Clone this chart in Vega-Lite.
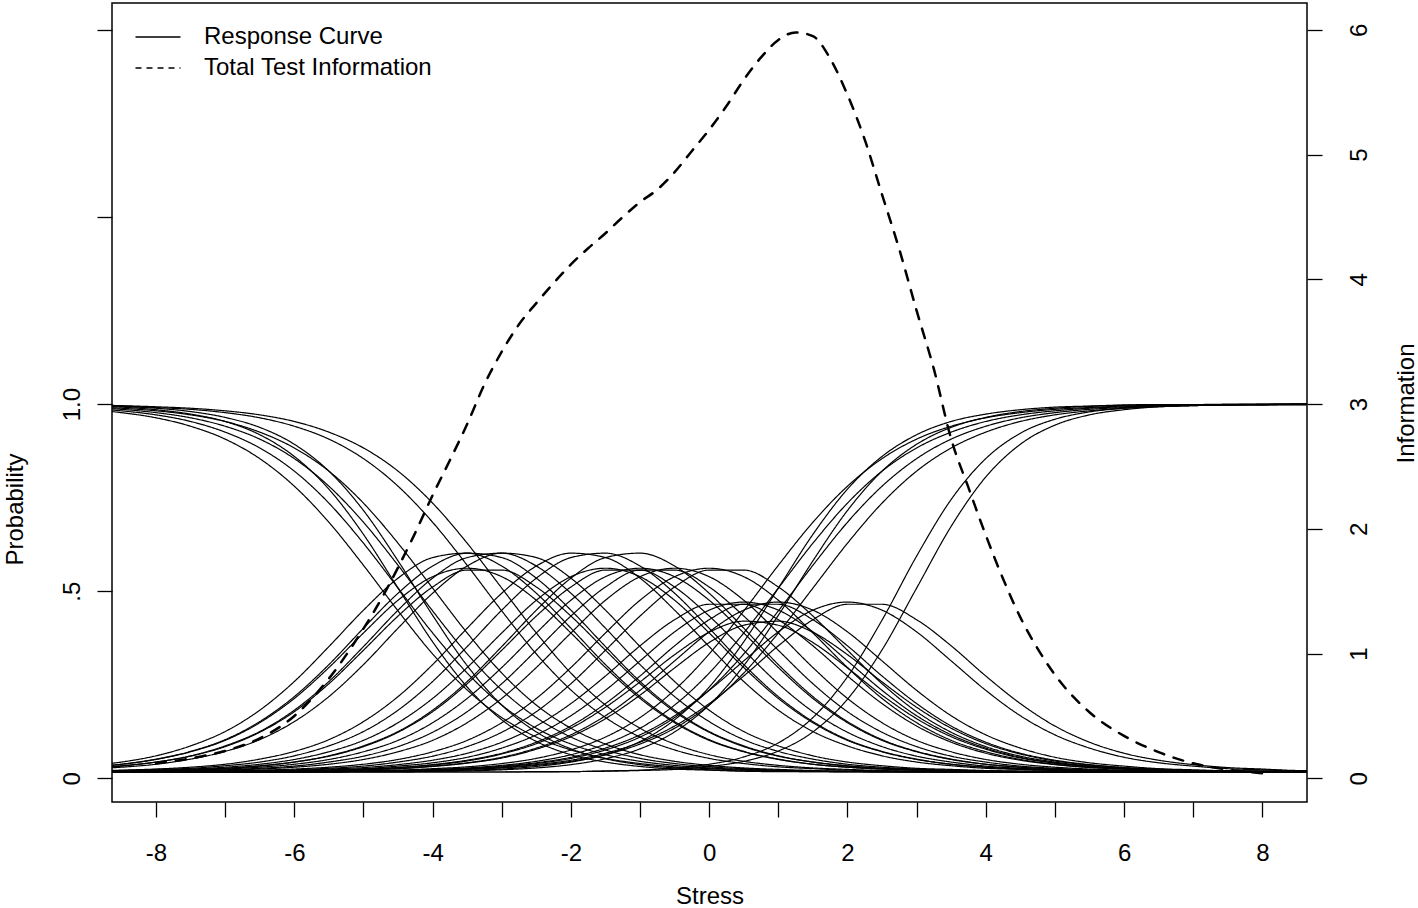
{
  "$schema": "https://vega.github.io/schema/vega-lite/v6.json",
  "width": 1195,
  "height": 799,
  "autosize": {"type": "none"},
  "padding": {"left": 112, "top": 3, "right": 111, "bottom": 106},
  "background": "white",
  "config": {
    "font": "Liberation Sans",
    "view": {"stroke": "black", "strokeWidth": 1.5},
    "axis": {"domain": false, "grid": false, "labelFont": "Liberation Sans", "labelFontSize": 24, "labelColor": "black", "titleFont": "Liberation Sans", "titleFontSize": 24, "titleFontWeight": "normal", "titleColor": "black", "tickColor": "black", "tickWidth": 1.3, "tickSize": 15}
  },
  "datasets": {
    "curves": [
      {"curve": "d1", "t": [-9,-8.5,-8,-7.5,-7,-6.5,-6,-5.5,-5,-4.5,-4,-3.5,-3,-2.5,-2,-1.5,-1,-0.5,0,0.5,1,1.5,2,2.5,3,3.5,4,4.5,5,5.5,6,6.5,7,7.5,8,8.5,9], "p": [0.986,0.977,0.963,0.94,0.905,0.852,0.777,0.679,0.562,0.438,0.321,0.223,0.148,0.095,0.06,0.037,0.023,0.014,0.009,0.005,0.003,0.002,0.001,0.001,0,0,0,0,0,0,0,0,0,0,0,0,0]},
      {"curve": "d2", "t": [-9,-8.5,-8,-7.5,-7,-6.5,-6,-5.5,-5,-4.5,-4,-3.5,-3,-2.5,-2,-1.5,-1,-0.5,0,0.5,1,1.5,2,2.5,3,3.5,4,4.5,5,5.5,6,6.5,7,7.5,8,8.5,9], "p": [0.989,0.982,0.971,0.953,0.924,0.881,0.818,0.731,0.622,0.5,0.378,0.269,0.182,0.119,0.076,0.047,0.029,0.018,0.011,0.007,0.004,0.002,0.002,0.001,0.001,0,0,0,0,0,0,0,0,0,0,0,0]},
      {"curve": "d3", "t": [-9,-8.5,-8,-7.5,-7,-6.5,-6,-5.5,-5,-4.5,-4,-3.5,-3,-2.5,-2,-1.5,-1,-0.5,0,0.5,1,1.5,2,2.5,3,3.5,4,4.5,5,5.5,6,6.5,7,7.5,8,8.5,9], "p": [0.995,0.992,0.985,0.973,0.953,0.917,0.858,0.769,0.646,0.5,0.354,0.231,0.142,0.083,0.047,0.027,0.015,0.008,0.005,0.002,0.001,0.001,0,0,0,0,0,0,0,0,0,0,0,0,0,0,0]},
      {"curve": "d4", "t": [-9,-8.5,-8,-7.5,-7,-6.5,-6,-5.5,-5,-4.5,-4,-3.5,-3,-2.5,-2,-1.5,-1,-0.5,0,0.5,1,1.5,2,2.5,3,3.5,4,4.5,5,5.5,6,6.5,7,7.5,8,8.5,9], "p": [0.991,0.986,0.977,0.963,0.94,0.905,0.852,0.777,0.679,0.562,0.438,0.321,0.223,0.148,0.095,0.06,0.037,0.023,0.014,0.009,0.005,0.003,0.002,0.001,0.001,0,0,0,0,0,0,0,0,0,0,0,0]},
      {"curve": "d5", "t": [-9,-8.5,-8,-7.5,-7,-6.5,-6,-5.5,-5,-4.5,-4,-3.5,-3,-2.5,-2,-1.5,-1,-0.5,0,0.5,1,1.5,2,2.5,3,3.5,4,4.5,5,5.5,6,6.5,7,7.5,8,8.5,9], "p": [0.997,0.994,0.989,0.98,0.964,0.937,0.891,0.818,0.711,0.574,0.426,0.289,0.182,0.109,0.063,0.036,0.02,0.011,0.006,0.003,0.002,0.001,0.001,0,0,0,0,0,0,0,0,0,0,0,0,0,0]},
      {"curve": "d6", "t": [-9,-8.5,-8,-7.5,-7,-6.5,-6,-5.5,-5,-4.5,-4,-3.5,-3,-2.5,-2,-1.5,-1,-0.5,0,0.5,1,1.5,2,2.5,3,3.5,4,4.5,5,5.5,6,6.5,7,7.5,8,8.5,9], "p": [0.993,0.989,0.982,0.971,0.953,0.924,0.881,0.818,0.731,0.622,0.5,0.378,0.269,0.182,0.119,0.076,0.047,0.029,0.018,0.011,0.007,0.004,0.002,0.002,0.001,0.001,0,0,0,0,0,0,0,0,0,0,0]},
      {"curve": "d7", "t": [-9,-8.5,-8,-7.5,-7,-6.5,-6,-5.5,-5,-4.5,-4,-3.5,-3,-2.5,-2,-1.5,-1,-0.5,0,0.5,1,1.5,2,2.5,3,3.5,4,4.5,5,5.5,6,6.5,7,7.5,8,8.5,9], "p": [0.997,0.995,0.991,0.986,0.977,0.963,0.94,0.905,0.852,0.777,0.679,0.562,0.438,0.321,0.223,0.148,0.095,0.06,0.037,0.023,0.014,0.009,0.005,0.003,0.002,0.001,0.001,0,0,0,0,0,0,0,0,0,0]},
      {"curve": "d8", "t": [-9,-8.5,-8,-7.5,-7,-6.5,-6,-5.5,-5,-4.5,-4,-3.5,-3,-2.5,-2,-1.5,-1,-0.5,0,0.5,1,1.5,2,2.5,3,3.5,4,4.5,5,5.5,6,6.5,7,7.5,8,8.5,9], "p": [0.998,0.996,0.993,0.989,0.982,0.971,0.953,0.924,0.881,0.818,0.731,0.622,0.5,0.378,0.269,0.182,0.119,0.076,0.047,0.029,0.018,0.011,0.007,0.004,0.002,0.002,0.001,0.001,0,0,0,0,0,0,0,0,0]},
      {"curve": "u1", "t": [-9,-8.5,-8,-7.5,-7,-6.5,-6,-5.5,-5,-4.5,-4,-3.5,-3,-2.5,-2,-1.5,-1,-0.5,0,0.5,1,1.5,2,2.5,3,3.5,4,4.5,5,5.5,6,6.5,7,7.5,8,8.5,9], "p": [0,0,0,0,0,0.001,0.001,0.002,0.003,0.005,0.009,0.014,0.023,0.037,0.06,0.095,0.148,0.223,0.321,0.438,0.562,0.679,0.777,0.852,0.905,0.94,0.963,0.977,0.986,0.991,0.995,0.997,0.998,0.999,0.999,1,1]},
      {"curve": "u2", "t": [-9,-8.5,-8,-7.5,-7,-6.5,-6,-5.5,-5,-4.5,-4,-3.5,-3,-2.5,-2,-1.5,-1,-0.5,0,0.5,1,1.5,2,2.5,3,3.5,4,4.5,5,5.5,6,6.5,7,7.5,8,8.5,9], "p": [0,0,0,0,0,0.001,0.001,0.002,0.002,0.004,0.007,0.011,0.018,0.029,0.047,0.076,0.119,0.182,0.269,0.378,0.5,0.622,0.731,0.818,0.881,0.924,0.953,0.971,0.982,0.989,0.993,0.996,0.998,0.998,0.999,0.999,1]},
      {"curve": "u3", "t": [-9,-8.5,-8,-7.5,-7,-6.5,-6,-5.5,-5,-4.5,-4,-3.5,-3,-2.5,-2,-1.5,-1,-0.5,0,0.5,1,1.5,2,2.5,3,3.5,4,4.5,5,5.5,6,6.5,7,7.5,8,8.5,9], "p": [0,0,0,0,0,0,0,0,0.001,0.001,0.002,0.005,0.008,0.015,0.027,0.047,0.083,0.142,0.231,0.354,0.5,0.646,0.769,0.858,0.917,0.953,0.973,0.985,0.992,0.995,0.998,0.999,0.999,1,1,1,1]},
      {"curve": "u4", "t": [-9,-8.5,-8,-7.5,-7,-6.5,-6,-5.5,-5,-4.5,-4,-3.5,-3,-2.5,-2,-1.5,-1,-0.5,0,0.5,1,1.5,2,2.5,3,3.5,4,4.5,5,5.5,6,6.5,7,7.5,8,8.5,9], "p": [0,0,0,0,0,0,0.001,0.001,0.002,0.003,0.005,0.009,0.014,0.023,0.037,0.06,0.095,0.148,0.223,0.321,0.438,0.562,0.679,0.777,0.852,0.905,0.94,0.963,0.977,0.986,0.991,0.995,0.997,0.998,0.999,0.999,1]},
      {"curve": "u5", "t": [-9,-8.5,-8,-7.5,-7,-6.5,-6,-5.5,-5,-4.5,-4,-3.5,-3,-2.5,-2,-1.5,-1,-0.5,0,0.5,1,1.5,2,2.5,3,3.5,4,4.5,5,5.5,6,6.5,7,7.5,8,8.5,9], "p": [0,0,0,0,0,0,0,0,0.001,0.001,0.002,0.003,0.006,0.011,0.02,0.036,0.063,0.109,0.182,0.289,0.426,0.574,0.711,0.818,0.891,0.937,0.964,0.98,0.989,0.994,0.997,0.998,0.999,0.999,1,1,1]},
      {"curve": "u6", "t": [-9,-8.5,-8,-7.5,-7,-6.5,-6,-5.5,-5,-4.5,-4,-3.5,-3,-2.5,-2,-1.5,-1,-0.5,0,0.5,1,1.5,2,2.5,3,3.5,4,4.5,5,5.5,6,6.5,7,7.5,8,8.5,9], "p": [0,0,0,0,0,0,0.001,0.001,0.002,0.002,0.004,0.007,0.011,0.018,0.029,0.047,0.076,0.119,0.182,0.269,0.378,0.5,0.622,0.731,0.818,0.881,0.924,0.953,0.971,0.982,0.989,0.993,0.996,0.998,0.998,0.999,0.999]},
      {"curve": "u7", "t": [-9,-8.5,-8,-7.5,-7,-6.5,-6,-5.5,-5,-4.5,-4,-3.5,-3,-2.5,-2,-1.5,-1,-0.5,0,0.5,1,1.5,2,2.5,3,3.5,4,4.5,5,5.5,6,6.5,7,7.5,8,8.5,9], "p": [0,0,0,0,0,0,0,0,0,0,0,0,0,0.001,0.001,0.003,0.005,0.011,0.021,0.041,0.079,0.148,0.259,0.413,0.587,0.741,0.852,0.921,0.959,0.979,0.989,0.995,0.997,0.999,0.999,1,1]},
      {"curve": "u8", "t": [-9,-8.5,-8,-7.5,-7,-6.5,-6,-5.5,-5,-4.5,-4,-3.5,-3,-2.5,-2,-1.5,-1,-0.5,0,0.5,1,1.5,2,2.5,3,3.5,4,4.5,5,5.5,6,6.5,7,7.5,8,8.5,9], "p": [0,0,0,0,0,0,0,0,0,0,0,0,0,0,0.001,0.002,0.004,0.007,0.015,0.029,0.057,0.109,0.198,0.332,0.5,0.668,0.802,0.891,0.943,0.971,0.985,0.993,0.996,0.998,0.999,1,1]},
      {"curve": "A1", "t": [-9,-8.5,-8,-7.5,-7,-6.5,-6,-5.5,-5,-4.5,-4,-3.5,-3,-2.5,-2,-1.5,-1,-0.5,0,0.5,1,1.5,2,2.5,3,3.5,4,4.5,5,5.5,6,6.5,7,7.5,8,8.5,9], "p": [0.013,0.021,0.035,0.056,0.088,0.137,0.205,0.292,0.391,0.486,0.56,0.595,0.583,0.527,0.44,0.341,0.246,0.168,0.11,0.071,0.044,0.027,0.017,0.01,0.007,0.004,0.002,0.002,0.001,0.001,0,0,0,0,0,0,0]},
      {"curve": "A2", "t": [-9,-8.5,-8,-7.5,-7,-6.5,-6,-5.5,-5,-4.5,-4,-3.5,-3,-2.5,-2,-1.5,-1,-0.5,0,0.5,1,1.5,2,2.5,3,3.5,4,4.5,5,5.5,6,6.5,7,7.5,8,8.5,9], "p": [0.017,0.027,0.044,0.071,0.11,0.168,0.246,0.341,0.44,0.527,0.583,0.595,0.56,0.486,0.391,0.292,0.205,0.137,0.088,0.056,0.035,0.021,0.013,0.008,0.005,0.003,0.002,0.001,0.001,0,0,0,0,0,0,0,0]},
      {"curve": "A3", "t": [-9,-8.5,-8,-7.5,-7,-6.5,-6,-5.5,-5,-4.5,-4,-3.5,-3,-2.5,-2,-1.5,-1,-0.5,0,0.5,1,1.5,2,2.5,3,3.5,4,4.5,5,5.5,6,6.5,7,7.5,8,8.5,9], "p": [0.01,0.017,0.027,0.044,0.071,0.11,0.168,0.246,0.341,0.44,0.527,0.583,0.595,0.56,0.486,0.391,0.292,0.205,0.137,0.088,0.056,0.035,0.021,0.013,0.008,0.005,0.003,0.002,0.001,0.001,0,0,0,0,0,0,0]},
      {"curve": "A4", "t": [-9,-8.5,-8,-7.5,-7,-6.5,-6,-5.5,-5,-4.5,-4,-3.5,-3,-2.5,-2,-1.5,-1,-0.5,0,0.5,1,1.5,2,2.5,3,3.5,4,4.5,5,5.5,6,6.5,7,7.5,8,8.5,9], "p": [0.01,0.016,0.027,0.043,0.069,0.108,0.164,0.24,0.331,0.424,0.503,0.549,0.549,0.503,0.424,0.331,0.24,0.164,0.108,0.069,0.043,0.027,0.016,0.01,0.006,0.004,0.002,0.002,0.001,0.001,0,0,0,0,0,0,0]},
      {"curve": "A5", "t": [-9,-8.5,-8,-7.5,-7,-6.5,-6,-5.5,-5,-4.5,-4,-3.5,-3,-2.5,-2,-1.5,-1,-0.5,0,0.5,1,1.5,2,2.5,3,3.5,4,4.5,5,5.5,6,6.5,7,7.5,8,8.5,9], "p": [0.008,0.013,0.021,0.035,0.056,0.088,0.137,0.205,0.292,0.391,0.486,0.56,0.595,0.583,0.527,0.44,0.341,0.246,0.168,0.11,0.071,0.044,0.027,0.017,0.01,0.007,0.004,0.002,0.002,0.001,0.001,0,0,0,0,0,0]},
      {"curve": "A6", "t": [-9,-8.5,-8,-7.5,-7,-6.5,-6,-5.5,-5,-4.5,-4,-3.5,-3,-2.5,-2,-1.5,-1,-0.5,0,0.5,1,1.5,2,2.5,3,3.5,4,4.5,5,5.5,6,6.5,7,7.5,8,8.5,9], "p": [0.013,0.021,0.034,0.055,0.086,0.134,0.2,0.284,0.378,0.467,0.531,0.554,0.531,0.467,0.378,0.284,0.2,0.134,0.086,0.055,0.034,0.021,0.013,0.008,0.005,0.003,0.002,0.001,0.001,0,0,0,0,0,0,0,0]},
      {"curve": "B1", "t": [-9,-8.5,-8,-7.5,-7,-6.5,-6,-5.5,-5,-4.5,-4,-3.5,-3,-2.5,-2,-1.5,-1,-0.5,0,0.5,1,1.5,2,2.5,3,3.5,4,4.5,5,5.5,6,6.5,7,7.5,8,8.5,9], "p": [0.003,0.005,0.008,0.013,0.021,0.035,0.056,0.088,0.137,0.205,0.292,0.391,0.486,0.56,0.595,0.583,0.527,0.44,0.341,0.246,0.168,0.11,0.071,0.044,0.027,0.017,0.01,0.007,0.004,0.002,0.002,0.001,0.001,0,0,0,0]},
      {"curve": "B2", "t": [-9,-8.5,-8,-7.5,-7,-6.5,-6,-5.5,-5,-4.5,-4,-3.5,-3,-2.5,-2,-1.5,-1,-0.5,0,0.5,1,1.5,2,2.5,3,3.5,4,4.5,5,5.5,6,6.5,7,7.5,8,8.5,9], "p": [0.002,0.004,0.007,0.01,0.017,0.027,0.044,0.071,0.11,0.168,0.246,0.341,0.44,0.527,0.583,0.595,0.56,0.486,0.391,0.292,0.205,0.137,0.088,0.056,0.035,0.021,0.013,0.008,0.005,0.003,0.002,0.001,0.001,0,0,0,0]},
      {"curve": "C1", "t": [-9,-8.5,-8,-7.5,-7,-6.5,-6,-5.5,-5,-4.5,-4,-3.5,-3,-2.5,-2,-1.5,-1,-0.5,0,0.5,1,1.5,2,2.5,3,3.5,4,4.5,5,5.5,6,6.5,7,7.5,8,8.5,9], "p": [0.002,0.003,0.005,0.008,0.013,0.021,0.034,0.055,0.086,0.134,0.2,0.284,0.378,0.467,0.531,0.554,0.531,0.467,0.378,0.284,0.2,0.134,0.086,0.055,0.034,0.021,0.013,0.008,0.005,0.003,0.002,0.001,0.001,0,0,0,0]},
      {"curve": "C2", "t": [-9,-8.5,-8,-7.5,-7,-6.5,-6,-5.5,-5,-4.5,-4,-3.5,-3,-2.5,-2,-1.5,-1,-0.5,0,0.5,1,1.5,2,2.5,3,3.5,4,4.5,5,5.5,6,6.5,7,7.5,8,8.5,9], "p": [0.002,0.002,0.004,0.006,0.01,0.016,0.027,0.043,0.069,0.108,0.164,0.24,0.331,0.424,0.503,0.549,0.549,0.503,0.424,0.331,0.24,0.164,0.108,0.069,0.043,0.027,0.016,0.01,0.006,0.004,0.002,0.002,0.001,0.001,0,0,0]},
      {"curve": "C3", "t": [-9,-8.5,-8,-7.5,-7,-6.5,-6,-5.5,-5,-4.5,-4,-3.5,-3,-2.5,-2,-1.5,-1,-0.5,0,0.5,1,1.5,2,2.5,3,3.5,4,4.5,5,5.5,6,6.5,7,7.5,8,8.5,9], "p": [0.001,0.002,0.003,0.005,0.008,0.013,0.021,0.034,0.055,0.086,0.134,0.2,0.284,0.378,0.467,0.531,0.554,0.531,0.467,0.378,0.284,0.2,0.134,0.086,0.055,0.034,0.021,0.013,0.008,0.005,0.003,0.002,0.001,0.001,0,0,0]},
      {"curve": "C4", "t": [-9,-8.5,-8,-7.5,-7,-6.5,-6,-5.5,-5,-4.5,-4,-3.5,-3,-2.5,-2,-1.5,-1,-0.5,0,0.5,1,1.5,2,2.5,3,3.5,4,4.5,5,5.5,6,6.5,7,7.5,8,8.5,9], "p": [0.002,0.002,0.004,0.007,0.01,0.017,0.027,0.044,0.071,0.11,0.168,0.246,0.341,0.44,0.527,0.583,0.595,0.56,0.486,0.391,0.292,0.205,0.137,0.088,0.056,0.035,0.021,0.013,0.008,0.005,0.003,0.002,0.001,0.001,0,0,0]},
      {"curve": "C5", "t": [-9,-8.5,-8,-7.5,-7,-6.5,-6,-5.5,-5,-4.5,-4,-3.5,-3,-2.5,-2,-1.5,-1,-0.5,0,0.5,1,1.5,2,2.5,3,3.5,4,4.5,5,5.5,6,6.5,7,7.5,8,8.5,9], "p": [0.001,0.002,0.002,0.004,0.006,0.01,0.016,0.027,0.043,0.069,0.108,0.164,0.24,0.331,0.424,0.503,0.549,0.549,0.503,0.424,0.331,0.24,0.164,0.108,0.069,0.043,0.027,0.016,0.01,0.006,0.004,0.002,0.002,0.001,0.001,0,0]},
      {"curve": "C6", "t": [-9,-8.5,-8,-7.5,-7,-6.5,-6,-5.5,-5,-4.5,-4,-3.5,-3,-2.5,-2,-1.5,-1,-0.5,0,0.5,1,1.5,2,2.5,3,3.5,4,4.5,5,5.5,6,6.5,7,7.5,8,8.5,9], "p": [0.001,0.001,0.002,0.003,0.005,0.008,0.013,0.021,0.034,0.055,0.086,0.134,0.2,0.284,0.378,0.467,0.531,0.554,0.531,0.467,0.378,0.284,0.2,0.134,0.086,0.055,0.034,0.021,0.013,0.008,0.005,0.003,0.002,0.001,0.001,0,0]},
      {"curve": "D1", "t": [-9,-8.5,-8,-7.5,-7,-6.5,-6,-5.5,-5,-4.5,-4,-3.5,-3,-2.5,-2,-1.5,-1,-0.5,0,0.5,1,1.5,2,2.5,3,3.5,4,4.5,5,5.5,6,6.5,7,7.5,8,8.5,9], "p": [0,0.001,0.001,0.002,0.002,0.004,0.006,0.01,0.016,0.027,0.043,0.069,0.108,0.164,0.24,0.331,0.424,0.503,0.549,0.549,0.503,0.424,0.331,0.24,0.164,0.108,0.069,0.043,0.027,0.016,0.01,0.006,0.004,0.002,0.002,0.001,0.001]},
      {"curve": "D2", "t": [-9,-8.5,-8,-7.5,-7,-6.5,-6,-5.5,-5,-4.5,-4,-3.5,-3,-2.5,-2,-1.5,-1,-0.5,0,0.5,1,1.5,2,2.5,3,3.5,4,4.5,5,5.5,6,6.5,7,7.5,8,8.5,9], "p": [0,0.001,0.001,0.002,0.003,0.005,0.008,0.013,0.021,0.034,0.055,0.086,0.134,0.2,0.284,0.378,0.467,0.531,0.554,0.531,0.467,0.378,0.284,0.2,0.134,0.086,0.055,0.034,0.021,0.013,0.008,0.005,0.003,0.002,0.001,0.001,0]},
      {"curve": "E1", "t": [-9,-8.5,-8,-7.5,-7,-6.5,-6,-5.5,-5,-4.5,-4,-3.5,-3,-2.5,-2,-1.5,-1,-0.5,0,0.5,1,1.5,2,2.5,3,3.5,4,4.5,5,5.5,6,6.5,7,7.5,8,8.5,9], "p": [0,0,0.001,0.001,0.002,0.003,0.004,0.008,0.012,0.02,0.032,0.051,0.081,0.125,0.186,0.261,0.343,0.414,0.456,0.456,0.414,0.343,0.261,0.186,0.125,0.081,0.051,0.032,0.02,0.012,0.008,0.004,0.003,0.002,0.001,0.001,0]},
      {"curve": "E2", "t": [-9,-8.5,-8,-7.5,-7,-6.5,-6,-5.5,-5,-4.5,-4,-3.5,-3,-2.5,-2,-1.5,-1,-0.5,0,0.5,1,1.5,2,2.5,3,3.5,4,4.5,5,5.5,6,6.5,7,7.5,8,8.5,9], "p": [0,0,0.001,0.001,0.002,0.002,0.003,0.006,0.009,0.016,0.025,0.04,0.065,0.101,0.153,0.222,0.302,0.381,0.44,0.462,0.44,0.381,0.302,0.222,0.153,0.101,0.065,0.04,0.025,0.016,0.009,0.006,0.003,0.002,0.002,0.001,0.001]},
      {"curve": "E3", "t": [-9,-8.5,-8,-7.5,-7,-6.5,-6,-5.5,-5,-4.5,-4,-3.5,-3,-2.5,-2,-1.5,-1,-0.5,0,0.5,1,1.5,2,2.5,3,3.5,4,4.5,5,5.5,6,6.5,7,7.5,8,8.5,9], "p": [0,0,0,0.001,0.001,0.002,0.002,0.004,0.007,0.012,0.019,0.03,0.049,0.077,0.119,0.176,0.245,0.319,0.38,0.41,0.399,0.352,0.283,0.209,0.145,0.096,0.062,0.038,0.024,0.015,0.009,0.006,0.003,0.002,0.002,0.001,0.001]},
      {"curve": "E4", "t": [-9,-8.5,-8,-7.5,-7,-6.5,-6,-5.5,-5,-4.5,-4,-3.5,-3,-2.5,-2,-1.5,-1,-0.5,0,0.5,1,1.5,2,2.5,3,3.5,4,4.5,5,5.5,6,6.5,7,7.5,8,8.5,9], "p": [0,0,0,0.001,0.001,0.002,0.003,0.004,0.008,0.012,0.02,0.032,0.051,0.081,0.125,0.186,0.261,0.343,0.414,0.456,0.456,0.414,0.343,0.261,0.186,0.125,0.081,0.051,0.032,0.02,0.012,0.008,0.004,0.003,0.002,0.001,0.001]},
      {"curve": "E5", "t": [-9,-8.5,-8,-7.5,-7,-6.5,-6,-5.5,-5,-4.5,-4,-3.5,-3,-2.5,-2,-1.5,-1,-0.5,0,0.5,1,1.5,2,2.5,3,3.5,4,4.5,5,5.5,6,6.5,7,7.5,8,8.5,9], "p": [0,0,0,0.001,0.001,0.002,0.002,0.003,0.006,0.009,0.016,0.025,0.04,0.065,0.101,0.153,0.222,0.302,0.381,0.44,0.462,0.44,0.381,0.302,0.222,0.153,0.101,0.065,0.04,0.025,0.016,0.009,0.006,0.003,0.002,0.002,0.001]},
      {"curve": "E6", "t": [-9,-8.5,-8,-7.5,-7,-6.5,-6,-5.5,-5,-4.5,-4,-3.5,-3,-2.5,-2,-1.5,-1,-0.5,0,0.5,1,1.5,2,2.5,3,3.5,4,4.5,5,5.5,6,6.5,7,7.5,8,8.5,9], "p": [0,0,0,0.001,0.001,0.002,0.002,0.003,0.006,0.009,0.015,0.024,0.038,0.062,0.096,0.145,0.209,0.283,0.352,0.399,0.41,0.38,0.319,0.245,0.176,0.119,0.077,0.049,0.03,0.019,0.012,0.007,0.004,0.002,0.002,0.001,0.001]},
      {"curve": "F1", "t": [-9,-8.5,-8,-7.5,-7,-6.5,-6,-5.5,-5,-4.5,-4,-3.5,-3,-2.5,-2,-1.5,-1,-0.5,0,0.5,1,1.5,2,2.5,3,3.5,4,4.5,5,5.5,6,6.5,7,7.5,8,8.5,9], "p": [0,0,0,0,0,0.001,0.001,0.002,0.002,0.003,0.006,0.009,0.016,0.025,0.04,0.065,0.101,0.153,0.222,0.302,0.381,0.44,0.462,0.44,0.381,0.302,0.222,0.153,0.101,0.065,0.04,0.025,0.016,0.009,0.006,0.003,0.002]},
      {"curve": "F2", "t": [-9,-8.5,-8,-7.5,-7,-6.5,-6,-5.5,-5,-4.5,-4,-3.5,-3,-2.5,-2,-1.5,-1,-0.5,0,0.5,1,1.5,2,2.5,3,3.5,4,4.5,5,5.5,6,6.5,7,7.5,8,8.5,9], "p": [0,0,0,0,0,0,0.001,0.001,0.002,0.003,0.004,0.008,0.012,0.02,0.032,0.051,0.081,0.125,0.186,0.261,0.343,0.414,0.456,0.456,0.414,0.343,0.261,0.186,0.125,0.081,0.051,0.032,0.02,0.012,0.008,0.004,0.003]}
    ],
    "info": [
      {"t": -8, "info": 0.12}, {"t": -7.5, "info": 0.16}, {"t": -7, "info": 0.22}, {"t": -6.5, "info": 0.32},
      {"t": -6, "info": 0.5}, {"t": -5.5, "info": 0.8}, {"t": -5, "info": 1.2}, {"t": -4.75, "info": 1.43},
      {"t": -4.5, "info": 1.69}, {"t": -4.25, "info": 1.97}, {"t": -4, "info": 2.27}, {"t": -3.75, "info": 2.55},
      {"t": -3.5, "info": 2.84}, {"t": -3.25, "info": 3.16}, {"t": -3, "info": 3.42}, {"t": -2.75, "info": 3.64},
      {"t": -2.5, "info": 3.81}, {"t": -2.25, "info": 3.97}, {"t": -2, "info": 4.12}, {"t": -1.75, "info": 4.25},
      {"t": -1.5, "info": 4.37}, {"t": -1.25, "info": 4.5}, {"t": -1, "info": 4.62}, {"t": -0.75, "info": 4.72},
      {"t": -0.5, "info": 4.86}, {"t": -0.25, "info": 5.03}, {"t": 0, "info": 5.2}, {"t": 0.25, "info": 5.39},
      {"t": 0.5, "info": 5.6}, {"t": 0.75, "info": 5.78}, {"t": 1, "info": 5.92}, {"t": 1.25, "info": 5.98},
      {"t": 1.5, "info": 5.95}, {"t": 1.75, "info": 5.77}, {"t": 2, "info": 5.48}, {"t": 2.25, "info": 5.12},
      {"t": 2.5, "info": 4.68}, {"t": 2.75, "info": 4.24}, {"t": 3, "info": 3.75}, {"t": 3.25, "info": 3.28},
      {"t": 3.5, "info": 2.72}, {"t": 3.75, "info": 2.33}, {"t": 4, "info": 1.95}, {"t": 4.25, "info": 1.6},
      {"t": 4.5, "info": 1.29}, {"t": 4.75, "info": 1.04}, {"t": 5, "info": 0.83}, {"t": 5.5, "info": 0.53},
      {"t": 6, "info": 0.34}, {"t": 6.5, "info": 0.21}, {"t": 7, "info": 0.12}, {"t": 7.5, "info": 0.07},
      {"t": 8, "info": 0.04}
    ]
  },
  "encoding": {
    "x": {
      "field": "t", "type": "quantitative",
      "scale": {"domain": [-8.637, 8.646], "nice": false, "zero": false},
      "axis": {
        "values": [-8,-7,-6,-5,-4,-3,-2,-1,0,1,2,3,4,5,6,7,8],
        "labelExpr": "datum.value % 2 == 0 ? '' + datum.value : ''",
        "title": "Stress", "labelPadding": 24, "labelFlush": false, "labelOverlap": false,
        "titleY": 101, "titleBaseline": "alphabetic"
      }
    }
  },
  "layer": [
    {
      "data": {"name": "curves"},
      "transform": [{"flatten": ["t", "p"]}],
      "mark": {"type": "line", "color": "black", "strokeWidth": 1.2, "interpolate": "monotone", "clip": true},
      "encoding": {
        "y": {"field": "p", "type": "quantitative", "scale": {"domain": [-0.0816, 2.0908], "nice": false, "zero": false}, "axis": null},
        "detail": {"field": "curve", "type": "nominal"},
        "strokeDash": {
          "datum": "Response Curve",
          "scale": {"domain": ["Response Curve", "Total Test Information"], "range": [[1, 0], [6, 5]]},
          "legend": {
            "orient": "none", "legendX": 34, "legendY": 22, "title": null,
            "symbolType": "M-2.5,0H2.5", "symbolSize": 324, "symbolStrokeWidth": 1.5,
            "symbolStrokeColor": "black", "symbolFillColor": "transparent",
            "labelFont": "Liberation Sans", "labelFontSize": 24, "labelColor": "black",
            "labelOffset": 34, "labelLimit": 0, "rowPadding": 7, "padding": 0
          }
        }
      }
    },
    {
      "data": {"name": "info"},
      "mark": {"type": "line", "color": "black", "opacity": 0},
      "encoding": {
        "y": {
          "field": "info", "type": "quantitative",
          "scale": {"domain": [-0.19, 6.216], "nice": false, "zero": false},
          "axis": {
            "orient": "left", "values": [0, 1.5, 3, 4.5, 6],
            "labelExpr": "datum.value == 0 ? '0' : datum.value == 1.5 ? '.5' : datum.value == 3 ? '1.0' : ''",
            "title": "Probability", "labelAngle": 270, "labelAlign": "center", "labelBaseline": "bottom",
            "labelPadding": 13, "labelOverlap": false,
            "titleAngle": 270, "titleX": -90, "titleY": 506, "titleAlign": "center", "titleBaseline": "alphabetic"
          }
        }
      }
    },
    {
      "data": {"name": "info"},
      "mark": {"type": "line", "color": "black", "strokeWidth": 2.5, "strokeDash": [10, 10], "strokeCap": "round", "interpolate": "monotone", "clip": true},
      "encoding": {
        "y": {
          "field": "info", "type": "quantitative",
          "scale": {"domain": [-0.19, 6.216], "nice": false, "zero": false},
          "axis": {
            "orient": "right", "values": [0, 1, 2, 3, 4, 5, 6], "format": "d",
            "title": "Information", "labelAngle": 270, "labelAlign": "center", "labelBaseline": "top",
            "labelPadding": 25, "labelOverlap": false,
            "titleAngle": 270, "titleX": 106, "titleY": 400, "titleAlign": "center", "titleBaseline": "alphabetic"
          }
        }
      }
    }
  ],
  "resolve": {"scale": {"y": "independent"}, "axis": {"y": "independent"}}
}
